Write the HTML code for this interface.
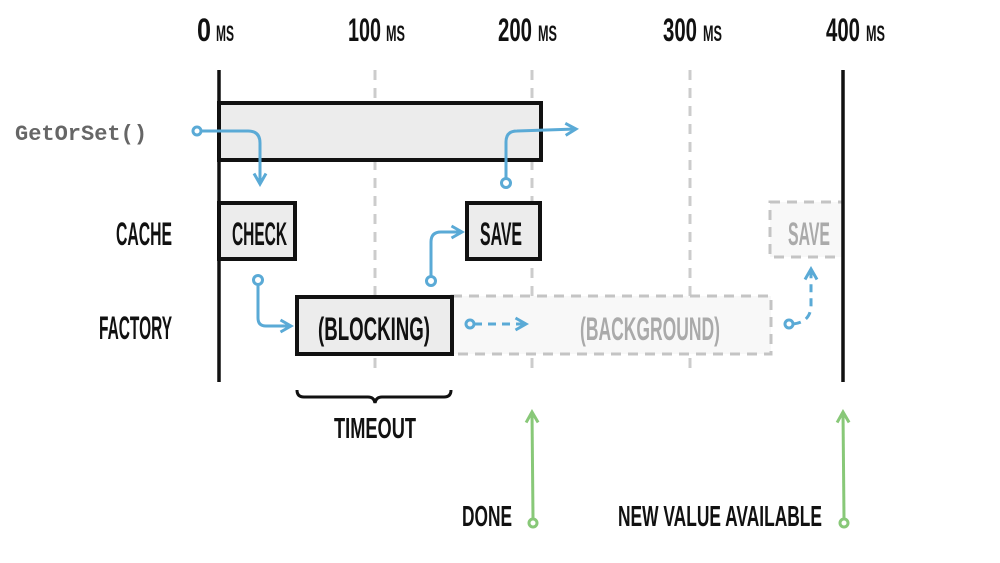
<!DOCTYPE html>
<html><head><meta charset="utf-8"><style>
html,body{margin:0;padding:0;background:#fff;}
svg{display:block;}
.h{font-family:"Liberation Sans Narrow","Liberation Sans",sans-serif;font-weight:bold;fill:#111;}
</style></head><body>
<svg width="1000" height="563" viewBox="0 0 1000 563" xmlns="http://www.w3.org/2000/svg">
<defs>
<marker id="ab" viewBox="0 0 10 10" refX="8" refY="5" markerWidth="5" markerHeight="5" orient="auto"><path d="M1,1 L8,5 L1,9" fill="none" stroke="#5aaad6" stroke-width="2"/></marker>
<marker id="ag" viewBox="0 0 10 10" refX="8" refY="5" markerWidth="5" markerHeight="5" orient="auto"><path d="M1,1 L8,5 L1,9" fill="none" stroke="#88c878" stroke-width="2"/></marker>
</defs>
<!-- axis labels -->
<g class="h" font-size="32">
<text x="197" y="41" textLength="14" lengthAdjust="spacingAndGlyphs">0</text><text x="216" y="41" font-size="22" textLength="18" lengthAdjust="spacingAndGlyphs">MS</text>
<text x="348" y="41" textLength="33" lengthAdjust="spacingAndGlyphs">100</text><text x="386" y="41" font-size="22" textLength="19" lengthAdjust="spacingAndGlyphs">MS</text>
<text x="498" y="41" textLength="34" lengthAdjust="spacingAndGlyphs">200</text><text x="538" y="41" font-size="22" textLength="19" lengthAdjust="spacingAndGlyphs">MS</text>
<text x="663" y="41" textLength="34" lengthAdjust="spacingAndGlyphs">300</text><text x="703" y="41" font-size="22" textLength="19" lengthAdjust="spacingAndGlyphs">MS</text>
<text x="826" y="41" textLength="34" lengthAdjust="spacingAndGlyphs">400</text><text x="866" y="41" font-size="22" textLength="19" lengthAdjust="spacingAndGlyphs">MS</text>
</g>
<!-- grid -->
<g stroke="#ccc" stroke-width="3" stroke-dasharray="10,8">
<line x1="375" y1="70" x2="375" y2="370"/>
<line x1="532" y1="70" x2="532" y2="370"/>
<line x1="690" y1="70" x2="690" y2="370"/>
</g>
<!-- background boxes -->
<rect x="452" y="296" width="319" height="58" fill="#f8f8f8" stroke="#c4c4c4" stroke-width="3" stroke-dasharray="10,7"/>
<rect x="770" y="202" width="73" height="55" fill="#f8f8f8" stroke="#c4c4c4" stroke-width="3" stroke-dasharray="10,7"/>
<!-- main boxes -->
<g fill="#ececec" stroke="#111" stroke-width="4">
<rect x="219" y="103" width="322" height="57"/>
<rect x="219" y="203" width="76" height="56"/>
<rect x="467" y="203" width="73" height="56"/>
<rect x="297" y="297" width="155" height="57"/>
</g>
<line x1="219" y1="70" x2="219" y2="382" stroke="#111" stroke-width="3.5"/>
<line x1="843" y1="70" x2="843" y2="382" stroke="#111" stroke-width="3.5"/>
<!-- labels -->
<text x="15" y="140" font-family="Liberation Mono,monospace" font-weight="bold" font-size="22" fill="#666">GetOrSet()</text>
<g class="h" font-size="32">
<text x="116" y="245" textLength="56" lengthAdjust="spacingAndGlyphs">CACHE</text>
<text x="99" y="339" textLength="73" lengthAdjust="spacingAndGlyphs">FACTORY</text>
<text x="232" y="245" textLength="55" lengthAdjust="spacingAndGlyphs">CHECK</text>
<text x="480" y="245" textLength="42" lengthAdjust="spacingAndGlyphs">SAVE</text>
<text x="318" y="340" textLength="112" lengthAdjust="spacingAndGlyphs">(BLOCKING)</text>
<text x="334" y="438" font-size="29" textLength="82" lengthAdjust="spacingAndGlyphs">TIMEOUT</text>
<text x="462" y="526" font-size="29" textLength="50" lengthAdjust="spacingAndGlyphs">DONE</text>
<text x="618" y="526" font-size="29" textLength="204" lengthAdjust="spacingAndGlyphs">NEW VALUE AVAILABLE</text>
<text x="788" y="245" fill="#aaa" textLength="42" lengthAdjust="spacingAndGlyphs">SAVE</text>
<text x="580" y="340" fill="#aaa" textLength="140" lengthAdjust="spacingAndGlyphs">(BACKGROUND)</text>
</g>
<!-- brace -->
<path d="M297,390 Q297,397 304,397 L368,397 Q374,397 375,403 Q376,397 382,397 L444,397 Q451,397 451,390" fill="none" stroke="#111" stroke-width="3"/>
<!-- blue arrows -->
<g fill="none" stroke="#5aaad6" stroke-width="3">
<circle cx="197" cy="131" r="4"/>
<path d="M201,131 L248,131 Q260,131 260,143 L260,184" marker-end="url(#ab)"/>
<circle cx="258" cy="280" r="4.5"/>
<path d="M258,285 L258,318 Q258,326 266,326 L291,326" marker-end="url(#ab)"/>
<circle cx="431" cy="281" r="4.5"/>
<path d="M431,276 L431,242 Q431,232 441,232 L462,232" marker-end="url(#ab)"/>
<circle cx="506" cy="183" r="4.5"/>
<path d="M506,178 L506,142 Q506,131 517,131 L576,129" marker-end="url(#ab)"/>
<circle cx="470" cy="324" r="4"/>
<path d="M474,324 L526,324" stroke-dasharray="8,6" marker-end="url(#ab)"/>
<circle cx="789" cy="324" r="4"/>
<path d="M793,324 Q811,322 811,305 L811,269" stroke-dasharray="8,6" marker-end="url(#ab)"/>
</g>
<!-- green arrows -->
<g fill="none" stroke="#88c878" stroke-width="3">
<circle cx="533" cy="523" r="4"/>
<path d="M533,518 L532,412" marker-end="url(#ag)"/>
<circle cx="844" cy="523" r="4"/>
<path d="M844,518 L843,412" marker-end="url(#ag)"/>
</g>
</svg>
</body></html>
